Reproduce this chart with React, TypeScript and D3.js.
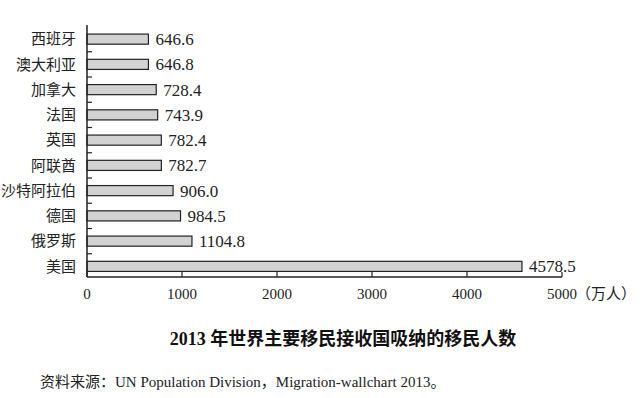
import React, { useEffect, useRef } from 'react';
import * as d3 from 'd3';

const countries = ['西班牙', '澳大利亚', '加拿大', '法国', '英国', '阿联酋', '沙特阿拉伯', '德国', '俄罗斯', '美国'];
const migrants = [646.6, 646.8, 728.4, 743.9, 782.4, 782.7, 906.0, 984.5, 1104.8, 4578.5];
const xTicks = [0, 1000, 2000, 3000, 4000, 5000];

const serif = '"Liberation Serif", "Noto Sans CJK SC", serif';

export default function App() {
  const svgRef = useRef<SVGSVGElement>(null);

  useEffect(() => {
    if (!svgRef.current) return;
    const svg = d3.select(svgRef.current);
    svg.selectAll('*').remove();

    const x = d3.scaleLinear().domain([0, 5000]).range([87, 562]);
    const y = d3.scaleBand<string>().domain(countries).range([26.5, 279]).paddingInner(0.6).paddingOuter(0.3);
    const yAxisBand = d3.scaleBand<string>().domain(countries).range([26.5, 279]);

    svg.append('rect').attr('width', 640).attr('height', 398).attr('fill', '#fff');

    const g = svg.append('g').style('font-family', serif);

    // bars
    g.selectAll('rect.bar')
      .data(countries)
      .join('rect')
      .attr('class', 'bar')
      .attr('x', x(0))
      .attr('y', d => y(d)!)
      .attr('width', (d, i) => x(migrants[i]) - x(0))
      .attr('height', y.bandwidth())
      .attr('fill', '#d2d2d2')
      .attr('stroke', '#222')
      .attr('stroke-width', 1.2);

    // value labels
    g.selectAll('text.val')
      .data(countries)
      .join('text')
      .attr('class', 'val')
      .attr('x', (d, i) => x(migrants[i]) + 7)
      .attr('y', d => y(d)! + y.bandwidth() / 2)
      .attr('dy', '0.35em')
      .style('font-family', serif)
      .attr('font-size', 17)
      .attr('fill', '#222')
      .text((d, i) => migrants[i].toFixed(1));

    // category labels
    g.selectAll('text.cat')
      .data(countries)
      .join('text')
      .attr('class', 'cat')
      .attr('x', 76)
      .attr('y', d => y(d)! + y.bandwidth() / 2)
      .attr('dy', '0.35em')
      .attr('text-anchor', 'end')
      .style('font-family', serif)
      .attr('font-size', 15)
      .attr('fill', '#222')
      .text(d => d);

    // y axis line + boundary ticks
    g.append('line')
      .attr('x1', x(0)).attr('x2', x(0))
      .attr('y1', 25).attr('y2', 277)
      .attr('stroke', '#222').attr('stroke-width', 1.5);
    countries.slice(1).forEach(c => {
      const yy = yAxisBand(c)!;
      g.append('line')
        .attr('x1', x(0)).attr('x2', x(0) + 5)
        .attr('y1', yy).attr('y2', yy)
        .attr('stroke', '#222').attr('stroke-width', 1.2);
    });

    // x axis
    g.append('line')
      .attr('x1', x(0)).attr('x2', x(5000))
      .attr('y1', 277).attr('y2', 277)
      .attr('stroke', '#222').attr('stroke-width', 1.5);
    xTicks.forEach(t => {
      g.append('line')
        .attr('x1', x(t)).attr('x2', x(t))
        .attr('y1', 277).attr('y2', 272)
        .attr('stroke', '#222').attr('stroke-width', 1.2);
      g.append('text')
        .attr('x', x(t))
        .attr('y', 299)
        .attr('text-anchor', 'middle')
        .style('font-family', serif)
        .attr('font-size', 15)
        .attr('fill', '#222')
        .text(t);
    });
    g.append('text')
      .attr('x', x(5000) + 14)
      .attr('y', 299)
      .style('font-family', serif)
      .attr('font-size', 15)
      .attr('fill', '#222')
      .text('（万人）');

    // title
    svg.append('text')
      .attr('x', 343)
      .attr('y', 345)
      .attr('text-anchor', 'middle')
      .style('font-family', serif)
      .attr('font-weight', 'bold')
      .attr('font-size', 18)
      .attr('fill', '#111')
      .text('2013 年世界主要移民接收国吸纳的移民人数');

    // source
    svg.append('text')
      .attr('x', 40)
      .attr('y', 387)
      .style('font-family', serif)
      .attr('font-size', 15)
      .attr('fill', '#222')
      .text('资料来源：UN Population Division，Migration-wallchart 2013。');
  }, []);

  return (
    <svg
      ref={svgRef}
      width={640}
      height={398}
      style={{ position: 'absolute', left: 0, top: 0 }}
    />
  );
}
